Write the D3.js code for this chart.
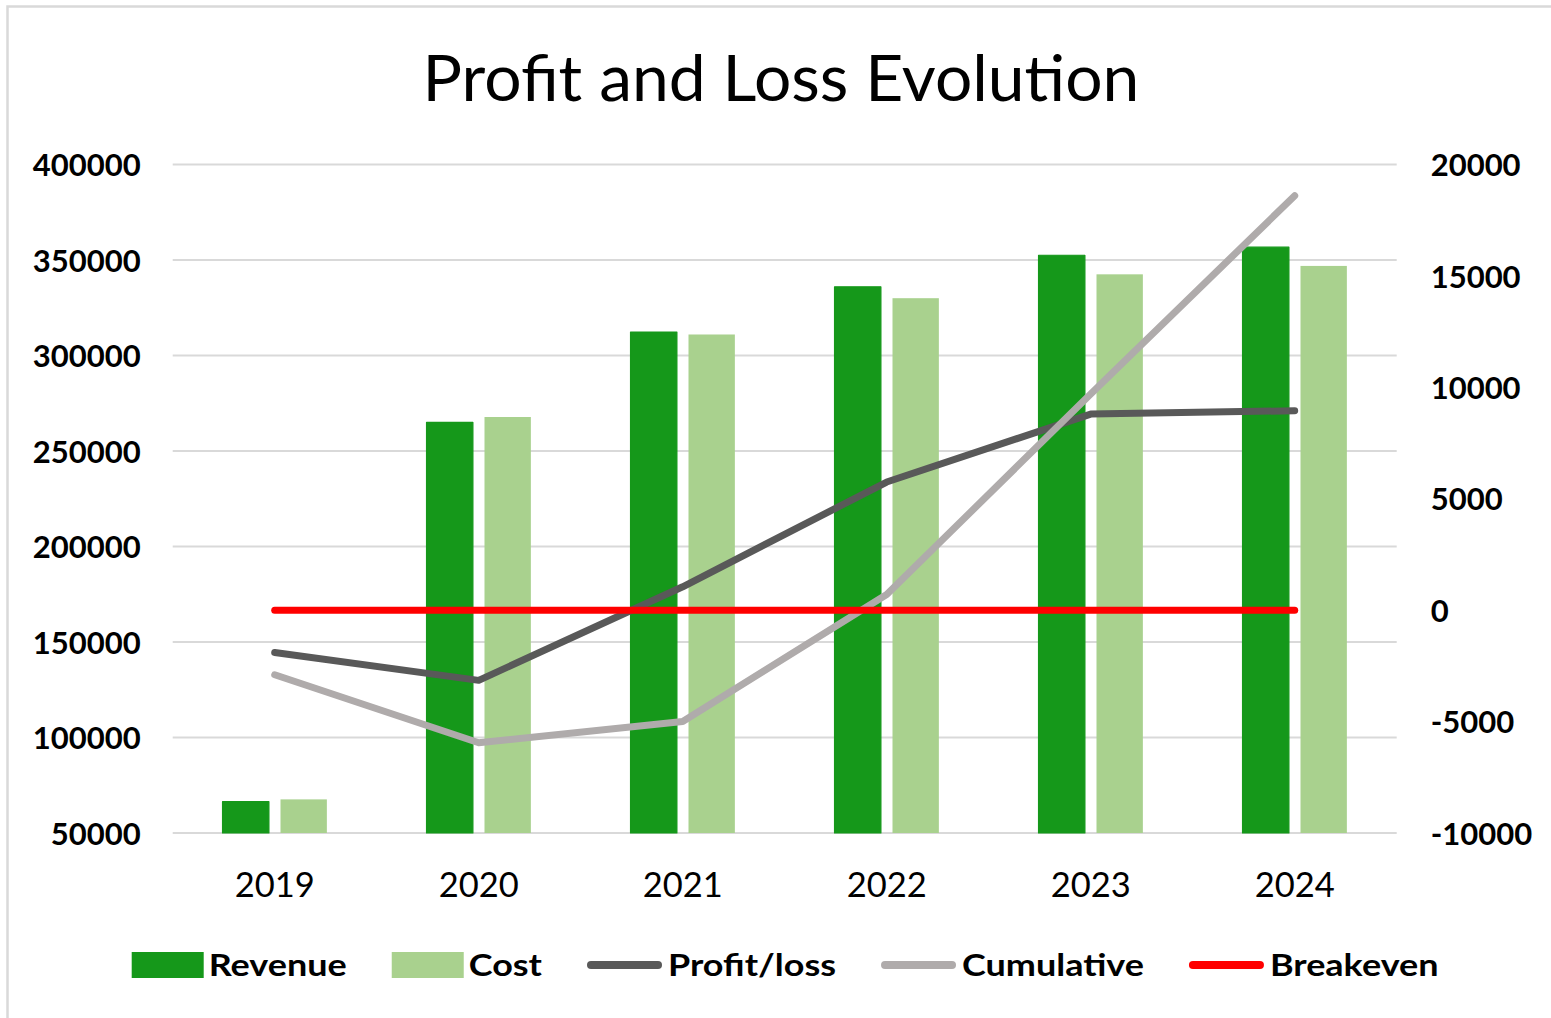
<html>
<head>
<meta charset="utf-8">
<style>
  body { margin: 0; background: #fff; }
  text { font-family: Lato, "Open Sans", sans-serif; fill: #000; }
</style>
</head>
<body>
<svg id="chart" width="1551" height="1018"></svg>
<script src="https://cdn.jsdelivr.net/npm/d3@7"></script>
<script>
// data
const years = ["2019", "2020", "2021", "2022", "2023", "2024"]
const revenue = [66400, 265000, 312300, 336000, 352500, 356700]
const cost = [67600, 267800, 311000, 330000, 342500, 346900]
const profit = [-1900, -3150, 1050, 5750, 8800, 8950]
const cumulative = [-2900, -5950, -5000, 700, 9700, 18600]
const breakeven = [0, 0, 0, 0, 0, 0]
const leftTicks = [50000, 100000, 150000, 200000, 250000, 300000, 350000, 400000]
const rightTicks = [-10000, -5000, 0, 5000, 10000, 15000, 20000]

const svg = d3.select("#chart")

// light frame round the chart
svg.append("rect")
    .attr("x", 7.5).attr("y", 6.5)
    .attr("width", 1600).attr("height", 1100)
    .attr("fill", "none").attr("stroke", "#d9d9d9").attr("stroke-width", 2.5)

let plotLeft = 172.7, plotRight = 1396.7, plotTop = 164.5, plotBottom = 833

let x = d3.scaleBand().domain(years).range([plotLeft, plotRight])
let xSub = d3.scaleBand().domain(["Revenue", "Cost"])
    .range([0, x.bandwidth()]).paddingInner(0.2).paddingOuter(0.86)
let yL = d3.scaleLinear().domain([50000, 400000]).range([plotBottom, plotTop])
let yR = d3.scaleLinear().domain([-10000, 20000]).range([plotBottom, plotTop])

// widen text a little, the original font runs wider than Lato
function stretch(sel, factor) {
    sel.each(function () {
        let w = this.getComputedTextLength()
        d3.select(this).attr("textLength", w * factor).attr("lengthAdjust", "spacingAndGlyphs")
    })
}

// title
let title = svg.append("text")
    .attr("x", 781).attr("y", 101)
    .attr("text-anchor", "middle")
    .style("font-size", "64px")
    .text("Profit and Loss Evolution")
stretch(title, 1.03)

// gridlines
svg.append("g").selectAll("line")
    .data(leftTicks)
    .enter().append("line")
    .attr("x1", plotLeft).attr("x2", plotRight)
    .attr("y1", d => yL(d)).attr("y2", d => yL(d))
    .attr("stroke", "#d9d9d9").attr("stroke-width", 2.2)

// left axis
let axL = svg.append("g").attr("transform", `translate(${plotLeft},0)`)
    .call(d3.axisLeft(yL).tickValues(leftTicks).tickSize(0).tickPadding(32).tickFormat(d => String(d)))
axL.select(".domain").remove()
axL.selectAll("text").style("font-size", "31px").style("font-weight", "bold")
    .style("font-family", "Lato, sans-serif").attr("dy", "0.36em")

// right axis
let axR = svg.append("g").attr("transform", `translate(${plotRight},0)`)
    .call(d3.axisRight(yR).tickValues(rightTicks).tickSize(0).tickPadding(34).tickFormat(d => String(d)))
axR.select(".domain").remove()
axR.selectAll("text").style("font-size", "31px").style("font-weight", "bold")
    .style("font-family", "Lato, sans-serif").attr("dy", "0.36em")

// bottom axis (years)
let axB = svg.append("g").attr("transform", `translate(0,${plotBottom})`)
    .call(d3.axisBottom(x).tickSize(0).tickPadding(64))
axB.select(".domain").remove()
axB.selectAll("text").style("font-size", "34.5px")
    .style("font-family", "Lato, sans-serif").attr("dy", "0em")

// bars
let bars = [
    { name: "Revenue", values: revenue, color: "#15981a", outline: 1.2 },
    { name: "Cost", values: cost, color: "#a9d18e", outline: 0 }
]
bars.forEach(s => {
    svg.append("g").selectAll("rect")
        .data(s.values)
        .enter().append("rect")
        .attr("x", (d, i) => x(years[i]) + xSub(s.name))
        .attr("width", xSub.bandwidth())
        .attr("y", d => yL(d))
        .attr("height", d => yL(50000) - yL(d))
        .attr("fill", s.color)
        .attr("stroke", s.outline ? s.color : "none")
        .attr("stroke-width", s.outline)
        .attr("stroke-linejoin", "round")
})

// lines on right axis
let lines = [
    { name: "Profit/loss", values: profit, color: "#595959" },
    { name: "Cumulative", values: cumulative, color: "#afabab" },
    { name: "Breakeven", values: breakeven, color: "#ff0000" }
]
let line = d3.line()
    .x((d, i) => x(years[i]) + x.bandwidth() / 2)
    .y(d => yR(d))
lines.forEach(s => {
    svg.append("path")
        .attr("d", line(s.values))
        .attr("fill", "none")
        .attr("stroke", s.color)
        .attr("stroke-width", 7)
        .attr("stroke-linecap", "round")
        .attr("stroke-linejoin", "round")
})

// legend
let legendItems = bars.map(b => ({ name: b.name, color: b.color, kind: "bar" }))
    .concat(lines.map(l => ({ name: l.name, color: l.color, kind: "line" })))
let lx = 131.7, ly = 965
legendItems.forEach(item => {
    let g = svg.append("g")
    if (item.kind === "bar") {
        g.append("rect").attr("x", lx).attr("y", ly - 13).attr("width", 72).attr("height", 26)
            .attr("fill", item.color)
        lx += 77
    } else {
        g.append("line").attr("x1", lx + 4).attr("x2", lx + 71).attr("y1", ly).attr("y2", ly)
            .attr("stroke", item.color).attr("stroke-width", 8).attr("stroke-linecap", "round")
        lx += 81
    }
    let t = g.append("text").attr("x", lx).attr("y", ly + 10.5)
        .style("font-size", "31px").style("font-weight", "bold")
        .text(item.name)
    stretch(t, 1.16)
    lx += t.node().getComputedTextLength() + 45
})
</script>
</body>
</html>
